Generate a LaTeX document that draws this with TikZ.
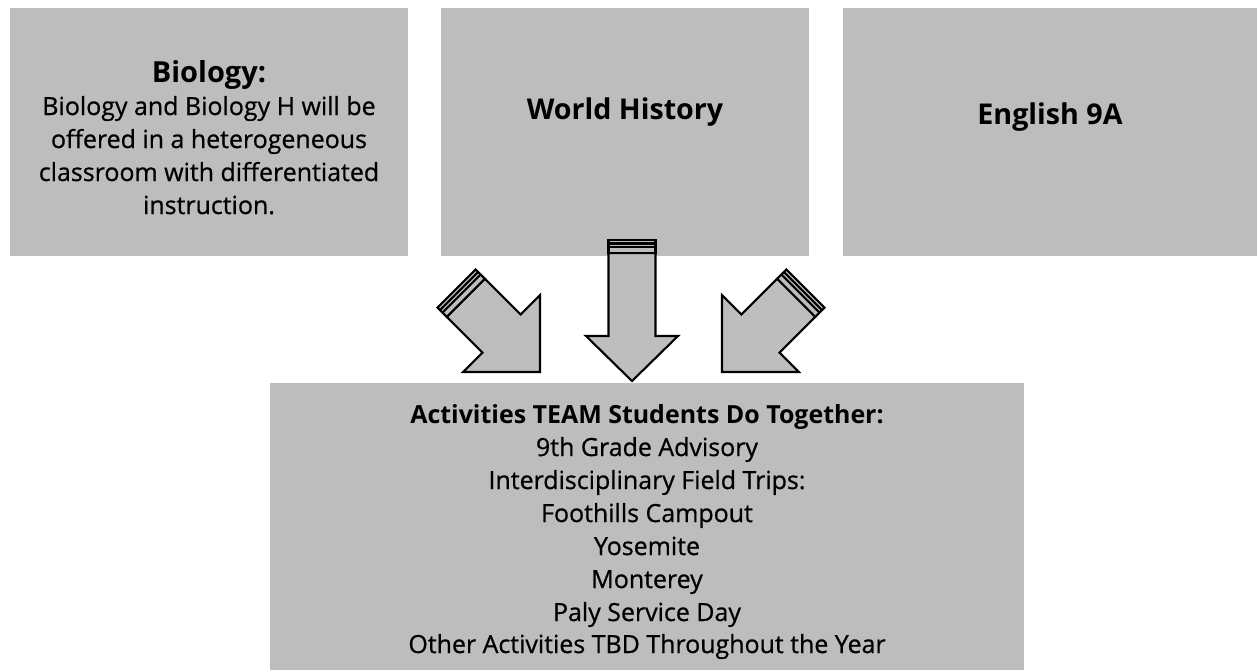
\documentclass[tikz,border=0pt]{standalone}
\usepackage{fontspec}
\setmainfont{Open Sans}
\newfontfamily\medfont[FakeBold=0.7]{Open Sans}
\definecolor{boxgray}{RGB}{189,189,189}
\definecolor{arrowgray}{RGB}{190,190,190}
\begin{document}
\begin{tikzpicture}[x=0.02cm,y=0.02cm,
  box/.style={draw=none,fill=boxgray,rectangle,inner sep=0pt},
  bodytxt/.style={anchor=base,inner sep=0pt,font=\medfont\fontsize{14.2}{16}\selectfont},
  headtxt/.style={anchor=base,inner sep=0pt,font=\fontsize{14.2}{16}\selectfont\bfseries},
  biotxt/.style={anchor=base,inner sep=0pt,font=\fontsize{16.5}{18}\selectfont\bfseries},
  bigtxt/.style={anchor=base,inner sep=0pt,font=\fontsize{16.3}{18}\selectfont\bfseries},
  arrowbody/.style={draw=black,fill=arrowgray,line width=1.2pt,line join=miter},
  stripe/.style={draw=black,line width=1.2pt}
]
\useasboundingbox[fill=white] (0,0) rectangle (1257,-670);
% boxes
\node[box,minimum width={398*0.02cm},minimum height={248*0.02cm}] (bio) at (209,-132) {};
\node[box,minimum width={368*0.02cm},minimum height={248*0.02cm}] (wh) at (625,-132) {};
\node[box,minimum width={414*0.02cm},minimum height={248*0.02cm}] (eng) at (1050,-132) {};
\node[box,minimum width={754*0.02cm},minimum height={287*0.02cm}] (act) at (647,-526.5) {};
% texts
\node[biotxt] (bioT) at (209,-82) {Biology:};
\node[bodytxt] (bio1) at (209,-115) {Biology and Biology H will be};
\node[bodytxt] (bio2) at (209,-148) {offered in a heterogeneous};
\node[bodytxt] (bio3) at (209,-181) {classroom with differentiated};
\node[bodytxt] (bio4) at (209,-214) {instruction.};
\node[bigtxt] (whT) at (625,-119) {World History};
\node[bigtxt] (engT) at (1050,-124) {English 9A};
\node[headtxt] (actT) at (647,-423) {Activities TEAM Students Do Together:};
\node[bodytxt] (act1) at (647,-456) {9th Grade Advisory};
\node[bodytxt] (act2) at (647,-489) {Interdisciplinary Field Trips:};
\node[bodytxt] (act3) at (647,-522) {Foothills Campout};
\node[bodytxt] (act4) at (647,-555) {Yosemite};
\node[bodytxt] (act5) at (647,-588) {Monterey};
\node[bodytxt] (act6) at (647,-621) {Paly Service Day};
\node[bodytxt] (act7) at (647,-653) {Other Activities TBD Throughout the Year};
% arrows: local frame, tip at origin pointing along +x
% middle arrow
\begin{scope}[shift={(632,-381)},rotate=-90]
  \path[arrowbody] (0,0) -- (-45,46) -- (-45,23.5) -- (-128,23.5) -- (-128,-23.5) -- (-45,-23.5) -- (-45,-46) -- cycle;
  \path[arrowbody] (-141,-23.5) rectangle (-128,23.5);
  \draw[stripe] (-134,-23.5) -- (-134,23.5);
  \draw[stripe] (-137.5,-23.5) -- (-137.5,23.5);
\end{scope}
% left arrow
\begin{scope}[shift={(540,-372)},rotate=-45]
  \path[arrowbody] (0,0) -- (-54.4,54.4) -- (-54.4,27) -- (-105,27) -- (-105,-27) -- (-54.4,-27) -- (-54.4,-54.4) -- cycle;
  \path[arrowbody] (-118,-27) rectangle (-105,27);
  \draw[stripe] (-111,-27) -- (-111,27);
  \draw[stripe] (-114.5,-27) -- (-114.5,27);
\end{scope}
% right arrow
\begin{scope}[shift={(722,-372)},rotate=-135]
  \path[arrowbody] (0,0) -- (-54.4,54.4) -- (-54.4,27) -- (-105,27) -- (-105,-27) -- (-54.4,-27) -- (-54.4,-54.4) -- cycle;
  \path[arrowbody] (-118,-27) rectangle (-105,27);
  \draw[stripe] (-111,-27) -- (-111,27);
  \draw[stripe] (-114.5,-27) -- (-114.5,27);
\end{scope}
\end{tikzpicture}
\end{document}
